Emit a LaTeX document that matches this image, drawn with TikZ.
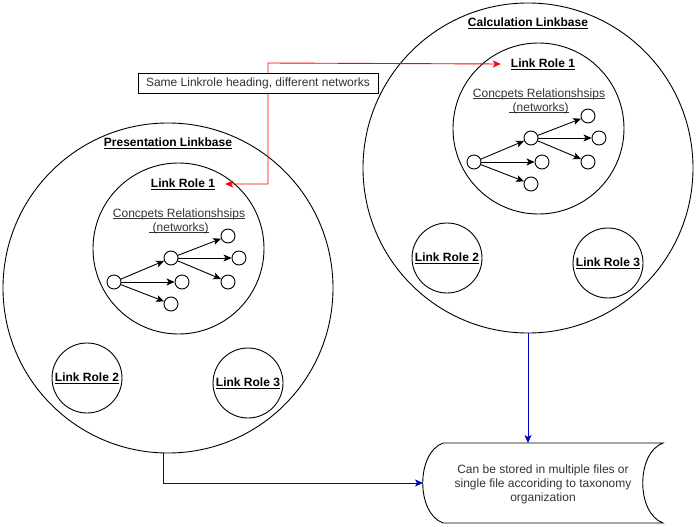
\documentclass[tikz,border=0pt]{standalone}
\usepackage{fontspec}
\setmainfont{Liberation Sans}
\usetikzlibrary{arrows.meta}
\definecolor{linkblue}{RGB}{0,0,204}
\newcommand\uln[1]{\setbox0\hbox{#1}\rlap{\rule[-2pt]{\wd0}{0.7pt}}\box0}
\tikzset{
ring/.style={draw,circle,line width=0.9pt,inner sep=0pt,minimum size=#1},
dot/.style={draw,circle,line width=0.9pt,inner sep=0pt,minimum size=14pt},
hd/.style={font=\fontsize{12}{14}\selectfont\bfseries,inner sep=0pt},
txt/.style={font=\fontsize{12}{14}\selectfont,text=black!80,inner sep=0pt},
conn/.style={line width=0.9pt,-{Stealth[length=8pt,width=7pt,inset=2pt]}},
}
\begin{document}
\begin{tikzpicture}[x=1pt,y=-1pt]
\useasboundingbox (0,0) rectangle (697,527);
\foreach \g/\dx/\dy/\t in {p/0/0/Presentation Linkbase,c/360/-120/Calculation Linkbase}{
\begin{scope}[shift={(\dx,\dy)}]
\node[ring=330pt] (\g-out) at (168,288) {};
\node[hd] (\g-title) at (168,143) {\uln{\t}};
\node[ring=171pt] (\g-lr1) at (178.5,248.5) {};
\node[hd,inner xsep=10pt] (\g-t1) at (183,184) {\uln{Link Role 1}};
\node[txt,align=center] (\g-rel) at (179,221) {\uln{Concpets Relationshsips}\\\uln{\ (networks)}};
\node[ring=70pt,hd] (\g-lr2) at (87,378) {\uln{Link Role 2}};
\node[ring=70pt,hd] (\g-lr3) at (248,383) {\uln{Link Role 3}};
\node[dot] (\g-a) at (114,282) {};
\node[dot] (\g-b) at (171,258) {};
\node[dot] (\g-c) at (182,282) {};
\node[dot] (\g-d) at (171,304) {};
\node[dot] (\g-e) at (228,236) {};
\node[dot] (\g-f) at (239,258) {};
\node[dot] (\g-g) at (228,282) {};
\foreach \s/\e in {a/b,a/c,a/d,b/e,b/f,b/g}
  \draw[conn] (\g-\s) -- (\g-\e);
\end{scope}
}
% same link role in both linkbases
\coordinate (bend) at (268,63);
\draw[conn,red,{Stealth[length=8pt,width=7pt,inset=2pt]}-{Stealth[length=8pt,width=7pt,inset=2pt]}] (p-t1.east) -| (bend) -- (c-t1.west);
\node[txt,draw,fill=white,line width=0.9pt,minimum width=240pt,minimum height=20pt] (note) at (258,83) {Same Linkrole heading, different networks};
% storage
\draw[line width=0.9pt] (443,443) -- (663,443) .. controls (636,453) and (636,513) .. (663,523) -- (443,523) .. controls (416,513) and (416,453) .. (443,443) -- cycle;
\node[txt,align=center] (store) at (543,484) {Can be stored in multiple files or\\single file accoriding to taxonomy\\organization};
\coordinate (store-w) at (423,483);
\coordinate (store-n) at (543,443);
\draw[conn,linkblue] ([xshift=-5pt]p-out.south) |- (store-w);
\draw[conn,linkblue] (c-out.south) -- (c-out.south |- store-n);
\end{tikzpicture}
\end{document}
